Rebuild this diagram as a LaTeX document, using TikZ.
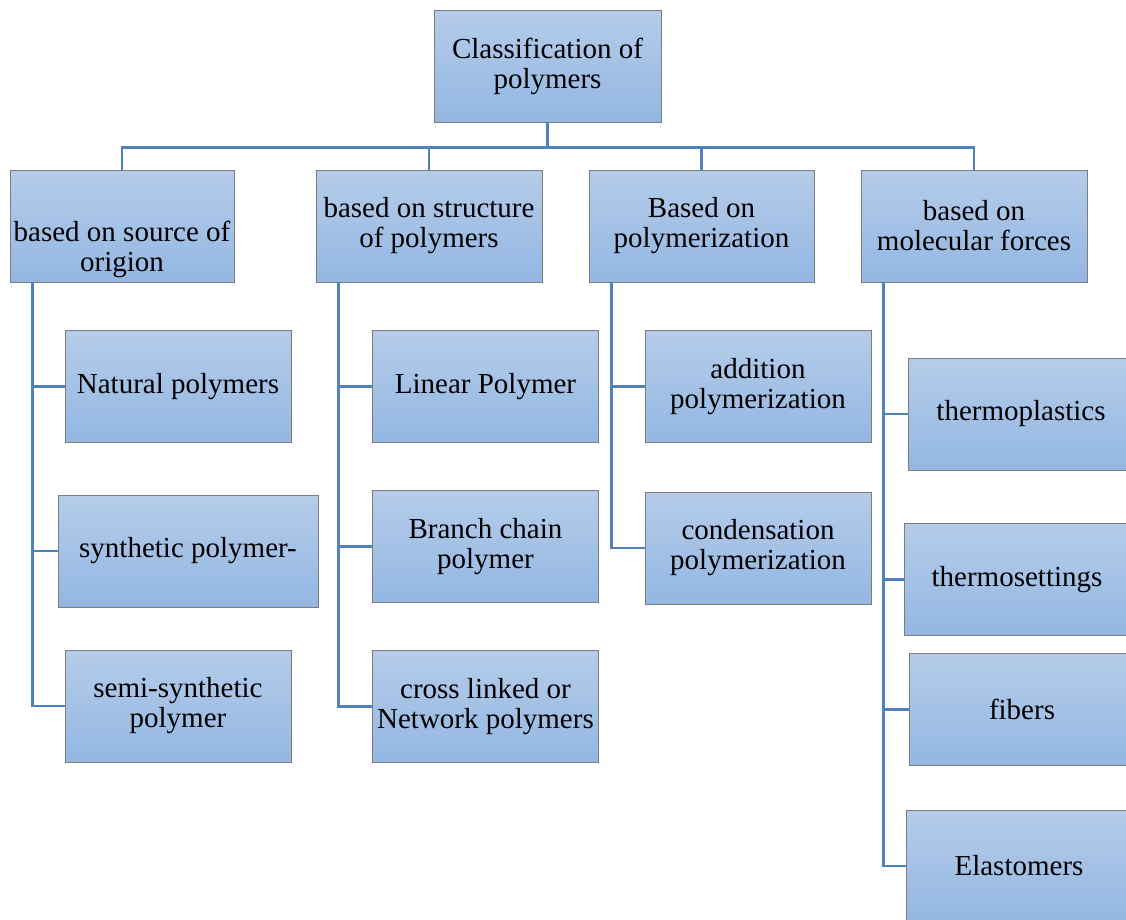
\documentclass[tikz,border=0pt]{standalone}
\usepackage{fontspec}
\setmainfont{Liberation Serif}
\usepackage{tikz}
\usetikzlibrary{positioning}
\usepackage{xcolor}
\definecolor{boxtop}{RGB}{181,204,233}
\definecolor{boxbot}{RGB}{147,183,227}
\definecolor{boxedge}{RGB}{125,125,125}
\definecolor{linkblue}{RGB}{79,129,189}

\begin{document}
\begin{tikzpicture}[x=1pt,y=-1pt,
    boxtext/.style={align=center, inner sep=0pt, font=\fontsize{29}{30}\selectfont},
    box/.style={boxtext, draw=boxedge, line width=0.8pt, top color=boxtop, bottom color=boxbot,
        minimum width=226pt, minimum height=112pt},
    link/.style={draw=linkblue, line width=2.6pt}]
    \useasboundingbox (0,0) rectangle (1126,919);
    \clip (0,0) rectangle (1126,919);

    % Root
    \node[box, minimum width=227pt] (root) at (547.5,66) {Classification of\\polymers};

    % Classes
    \node[box, minimum width=224pt] (srcA) at (122,226) {};
    \node[boxtext] (srcAtext) at (122,249) {based on source of\\origion};
    \node[box] (structB) at (429,226) {based on structure\\of polymers};
    \node[box, minimum width=225pt] (polyC) at (701.5,226) {Based on\\polymerization};
    \node[box] (forceD) at (974,226) {based on\\molecular forces};

    % Source of origin
    \node[box] (natural) at (178,386.5) {Natural polymers};
    \node[box, minimum width=260pt] (synthetic) at (188,551) {synthetic polymer-};
    \node[box] (semisyn) at (178,706) {semi-synthetic\\polymer};

    % Structure
    \node[box] (linear) at (485.5,386.5) {Linear Polymer};
    \node[box] (branch) at (485.5,546.5) {Branch chain\\polymer};
    \node[box] (network) at (485.5,706.5) {cross linked or\\Network polymers};

    % Polymerization
    \node[box] (addition) at (758,386.5) {addition\\polymerization};
    \node[box] (condens) at (758,548) {condensation\\polymerization};

    % Molecular forces
    \node[box] (plastics) at (1021,414) {thermoplastics};
    \node[box] (settings) at (1017,579.5) {thermosettings};
    \node[box] (fibers) at (1022,709.5) {fibers};
    \node[box] (elasto) at (1019,866) {Elastomers};

    % Bus from root
    \foreach \cls in {srcA,structB,polyC,forceD}
        \draw[link] (root.south) -- ++(0,25) -| (\cls.north);

    % Branches
    \foreach \kid in {natural,synthetic,semisyn}
        \draw[link] ([xshift=23pt]srcA.south west) |- (\kid.west);
    \foreach \kid in {linear,branch,network}
        \draw[link] ([xshift=23pt]structB.south west) |- (\kid.west);
    \foreach \kid in {addition,condens}
        \draw[link] ([xshift=23pt]polyC.south west) |- (\kid.west);
    \foreach \kid in {plastics,settings,fibers,elasto}
        \draw[link] ([xshift=23pt]forceD.south west) |- (\kid.west);
\end{tikzpicture}
\end{document}
